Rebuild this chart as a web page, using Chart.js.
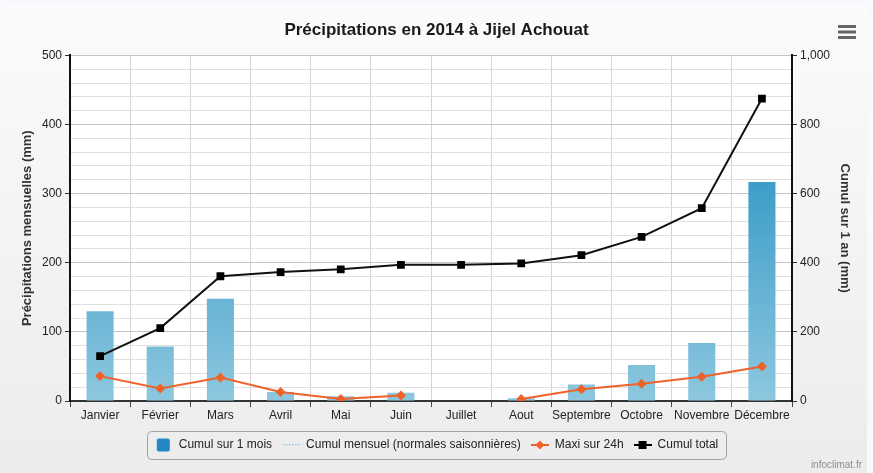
<!DOCTYPE html>
<html><head><meta charset="utf-8">
<script src="https://cdn.jsdelivr.net/npm/chart.js@4.4.1/dist/chart.umd.min.js"></script>
<style>html,body{margin:0;padding:0;background:#f7f9fc}#wrap{width:873px;height:473px;position:relative}</style>
</head><body><div id="wrap"><canvas id="c" width="873" height="473"></canvas></div>
<script>
const months = ['Janvier','Février','Mars','Avril','Mai','Juin','Juillet','Aout','Septembre','Octobre','Novembre','Décembre'];
const cumulMois = [130,79,148,13,7,12,0,4,24,52,84,317];
const normalesSaison = [null,null,null,null,null,null,null,null,null,null,null,null];
const maxi24h = [36,18,34,13,3,8,null,3,17,25,35,50];
const cumulTotal = [130,211,361,373,381,394,394,398,422,475,558,875];
const seriesNames = ['Cumul sur 1 mois','Cumul mensuel (normales saisonnières)','Maxi sur 24h','Cumul total'];
const titleText = 'Précipitations en 2014 à Jijel Achouat';
const leftTitle = 'Précipitations mensuelles (mm)';
const rightTitle = 'Cumul sur 1 an (mm)';
const creditText = 'infoclimat.fr';

const FONT = "'Liberation Sans', Arial, sans-serif";
const ORANGE = '#f0622a';

function rr(c,x,y,w,h,r){c.beginPath();c.moveTo(x+r,y);c.lineTo(x+w-r,y);c.quadraticCurveTo(x+w,y,x+w,y+r);c.lineTo(x+w,y+h-r);c.quadraticCurveTo(x+w,y+h,x+w-r,y+h);c.lineTo(x+r,y+h);c.quadraticCurveTo(x,y+h,x,y+h-r);c.lineTo(x,y+r);c.quadraticCurveTo(x,y,x+r,y);c.closePath();}

function mk(w,h,fn){const cv=document.createElement('canvas');cv.width=w;cv.height=h;fn(cv.getContext('2d'));return cv;}
const legendImgs = [
  mk(18,14,c=>{c.fillStyle='#2389c2';rr(c,2,0.5,13,13,2);c.fill();}),
  mk(18,4,c=>{c.fillStyle='#7fc0e4';for(let x=1;x<17;x+=3){c.fillRect(x,1,1.5,1.2);}}),
  mk(18,10,c=>{c.fillStyle=ORANGE;c.fillRect(0,4,18,2);c.beginPath();c.moveTo(9,0.5);c.lineTo(13.5,5);c.lineTo(9,9.5);c.lineTo(4.5,5);c.closePath();c.fill();}),
  mk(18,10,c=>{c.fillStyle='#000';c.fillRect(0,4,18,2);c.fillRect(5,1,8,8);})
];

const deco = {
  id:'deco',
  beforeDraw(chart){
    const c=chart.ctx;c.save();
    c.fillStyle='#f7f9fc';c.fillRect(0,0,873,473);
    const g=c.createLinearGradient(0,5,0,473);g.addColorStop(0,'#fbfbfb');g.addColorStop(1,'#ececec');
    c.fillStyle=g;rr(c,0,5,867,480,8);c.fill();
    const a=chart.chartArea;c.fillStyle='#ffffff';c.fillRect(a.left,a.top,a.right-a.left,a.bottom-a.top);
    c.restore();
  },
  afterDraw(chart){
    const c=chart.ctx;c.save();
    const hb=chart.legend.legendHitBoxes;
    if(hb&&hb.length){
      const x0=Math.min(...hb.map(h=>h.left))-8, x1=Math.max(...hb.map(h=>h.left+h.width))+8;
      const yc=hb[0].top+hb[0].height/2;
      c.strokeStyle='#a0a0a0';c.lineWidth=1;rr(c,Math.round(x0)+0.5,Math.round(yc-14)+0.5,Math.round(x1-x0),28,5);c.stroke();
    }
    // menu button
    c.fillStyle='#f9f9f9';rr(c,833,19,28,26,3);c.fill();
    c.fillStyle='#666';
    [26.5,32,37.5].forEach(y=>{c.fillRect(838,y-1.5,18,3);});
    // credits
    c.fillStyle='#909090';c.font="10px "+FONT;c.textAlign='right';c.textBaseline='middle';
    c.fillText(creditText,862,465);
    c.restore();
  }
};

const barGrad = (ctx)=>{
  const ch=ctx.chart, a=ch.chartArea;
  if(!a) return '#7dbdd9';
  const g=ch.ctx.createLinearGradient(0,a.top,0,a.bottom);
  g.addColorStop(0,'#2a91c3');g.addColorStop(0.36,'#3d9dc8');g.addColorStop(1,'#8dc7df');
  return g;
};

new Chart(document.getElementById('c'),{
  data:{
    labels:months,
    datasets:[
      {type:'bar',label:seriesNames[0],data:cumulMois,yAxisID:'y',backgroundColor:barGrad,borderWidth:0,categoryPercentage:1,barPercentage:0.45,order:4},
      {type:'line',label:seriesNames[1],data:normalesSaison,yAxisID:'y',borderColor:'#7fc0e4',borderDash:[2,2],borderWidth:1,pointRadius:0,order:3},
      {type:'line',label:seriesNames[2],data:maxi24h,yAxisID:'y',borderColor:ORANGE,backgroundColor:ORANGE,borderWidth:2,pointStyle:'rectRot',pointRadius:5,pointBorderWidth:0,spanGaps:false,tension:0,order:2},
      {type:'line',label:seriesNames[3],data:cumulTotal,yAxisID:'y2',borderColor:'#111',backgroundColor:'#000',borderWidth:2,pointStyle:'rect',pointRadius:5.5,pointBorderWidth:0,tension:0,order:1}
    ]
  },
  options:{
    responsive:false,animation:false,
    layout:{padding:{top:0,bottom:12,left:0,right:0}},
    plugins:{
      tooltip:{enabled:false},
      title:{display:true,text:titleText,color:'#1a1a1a',font:{family:FONT,size:17,weight:'bold'},padding:{top:20,bottom:15}},
      legend:{position:'bottom',labels:{usePointStyle:true,pointStyleWidth:18,padding:10,color:'#222',font:{family:FONT,size:12},
        sort:(a,b)=>a.datasetIndex-b.datasetIndex,
        generateLabels(chart){
          const items=Chart.defaults.plugins.legend.labels.generateLabels(chart);
          items.sort((a,b)=>a.datasetIndex-b.datasetIndex);
          items.forEach(it=>{it.pointStyle=legendImgs[it.datasetIndex];it.lineWidth=0;it.strokeStyle='transparent';});
          return items;
        }}}
    },
    scales:{
      x:{type:'category',offset:true,
        grid:{offset:true,color:'#d6d6d6',lineWidth:1,tickColor:'#444',tickLength:6},
        border:{color:'#333',width:2},
        ticks:{color:'#222',font:{family:FONT,size:12},padding:1,maxRotation:0,autoSkip:false},
        afterFit(s){s.height=28;}
      },
      y:{type:'linear',position:'left',min:0,max:500,
        ticks:{stepSize:20,autoSkip:false,color:'#222',font:{family:FONT,size:12},padding:3,callback:v=>v%100===0?String(v):''},
        grid:{color:c=>c.tick&&c.tick.value%100===0?'#c4c4c4':'#e0e0e0',tickColor:c=>c.tick&&c.tick.value%100===0?'#333':'rgba(0,0,0,0)',tickLength:5,lineWidth:1},
        border:{color:'#111',width:2},
        title:{display:true,text:leftTitle,color:'#333',font:{family:FONT,size:13,weight:'bold'},padding:{top:20,bottom:0}},
        afterFit(s){s.width=70;}
      },
      y2:{type:'linear',position:'right',min:0,max:1000,
        ticks:{stepSize:200,color:'#222',font:{family:FONT,size:12},padding:3,callback:v=>v.toLocaleString('en-US')},
        grid:{drawOnChartArea:false,tickColor:'#333',tickLength:5},
        border:{color:'#111',width:2},
        title:{display:true,text:rightTitle,color:'#333',font:{family:FONT,size:13,weight:'bold'},padding:{top:21,bottom:0}},
        afterFit(s){s.width=81;}
      }
    }
  },
  plugins:[deco]
});
</script></body></html>
